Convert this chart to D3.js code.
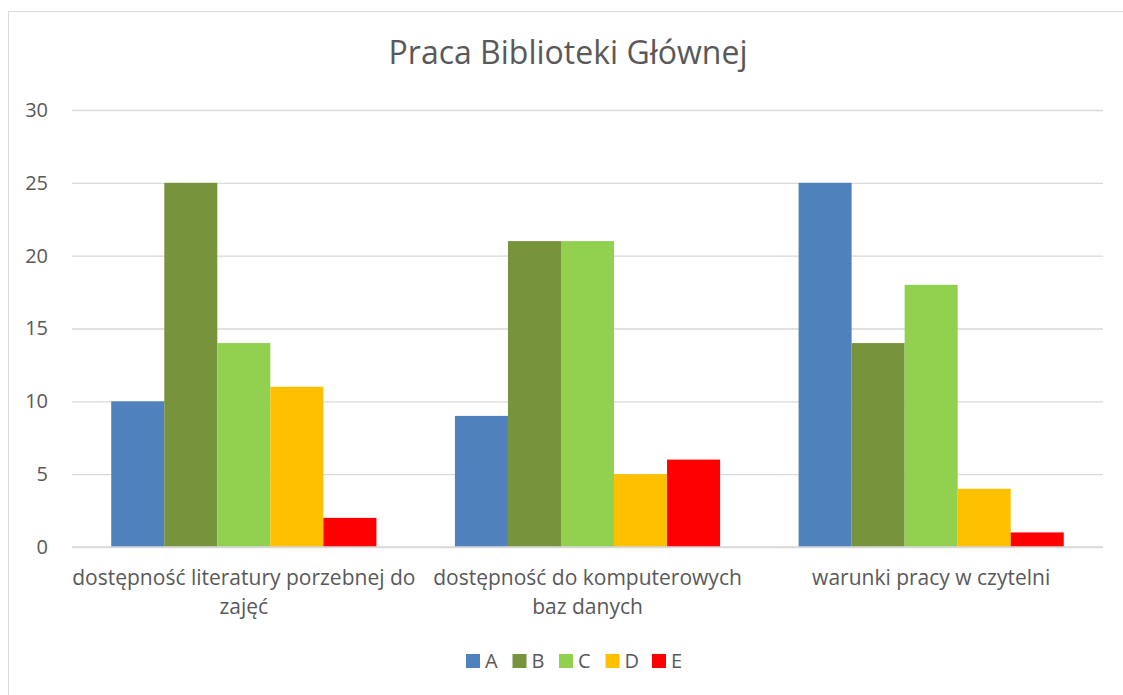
<!DOCTYPE html>
<html>
<head>
<meta charset="utf-8">
<script src="https://cdn.jsdelivr.net/npm/d3@7"></script>
<style>
  html, body { margin: 0; padding: 0; background: #fff; }
  svg { display: block; }
  text { font-family: "Open Sans", "DejaVu Sans", sans-serif; fill: #595959; }
</style>
</head>
<body>
<svg id="chart" width="1123" height="695"></svg>
<script>
const title = "Praca Biblioteki Głównej";
const categories = ["dostępność literatury porzebnej do zajęć", "dostępność do komputerowych baz danych", "warunki pracy w czytelni"];
const categoryLines = [["dostępność literatury porzebnej do", "zajęć"], ["dostępność do komputerowych", "baz danych"], ["warunki pracy w czytelni"]];
const seriesNames = ["A", "B", "C", "D", "E"];
const seriesColors = ["#4F81BD", "#77933C", "#92D050", "#FFC000", "#FF0000"];
const valuesA = [10, 9, 25];
const valuesB = [25, 21, 14];
const valuesC = [14, 21, 18];
const valuesD = [11, 5, 4];
const valuesE = [2, 6, 1];
const seriesValues = [valuesA, valuesB, valuesC, valuesD, valuesE];
const yTicks = [0, 5, 10, 15, 20, 25, 30];

const svg = d3.select("#chart");
const W = 1123, H = 695;

// outer chart border
svg.append("rect").attr("x", 8.5).attr("y", 11.5).attr("width", W).attr("height", H)
  .attr("fill", "#fff").attr("stroke", "#D9D9D9").attr("stroke-width", 1);

const plot = { left: 72, right: 1103, top: 110, bottom: 547 };

const x0 = d3.scaleBand().domain(categories).range([plot.left, plot.right]).paddingInner(0).paddingOuter(0);
const gapRatio = 1.48;
const barW = x0.bandwidth() / (seriesNames.length + gapRatio);
const pad = barW * gapRatio / 2;
const x1 = d3.scaleBand().domain(seriesNames).range([pad, x0.bandwidth() - pad]).padding(0);
const y = d3.scaleLinear().domain([0, 30]).range([plot.bottom, plot.top]);

// title
svg.append("text").attr("x", 568).attr("y", 64).attr("text-anchor", "middle")
  .style("font-size", "32px").text(title);

// gridlines
const yAxis = d3.axisLeft(y).tickValues(yTicks).tickSize(-(plot.right - plot.left)).tickPadding(24);
const gy = svg.append("g").attr("transform", `translate(${plot.left},0)`).call(yAxis);
gy.select(".domain").remove();
gy.selectAll(".tick line").attr("stroke", "#D9D9D9").attr("stroke-width", 1.3);
gy.selectAll(".tick text").style("font-size", "20px").attr("fill", "#595959")
  .style("font-family", "'Open Sans', sans-serif");

// bars
const groups = svg.append("g").selectAll("g").data(categories).join("g")
  .attr("transform", d => `translate(${x0(d)},0)`);
groups.selectAll("rect")
  .data((d, ci) => seriesNames.map((s, si) => ({ s, si, v: seriesValues[si][ci] })))
  .join("rect")
  .attr("x", d => x1(d.s))
  .attr("width", x1.bandwidth())
  .attr("y", d => y(d.v))
  .attr("height", d => y(0) - y(d.v))
  .attr("fill", d => seriesColors[d.si]);

// baseline
svg.append("line").attr("x1", plot.left).attr("x2", plot.right)
  .attr("y1", y(0)).attr("y2", y(0)).attr("stroke", "#D9D9D9").attr("stroke-width", 1.5);

// category labels
const xAxis = d3.axisBottom(x0).tickSize(0).tickFormat(() => "");
const gx = svg.append("g").attr("transform", `translate(0,${plot.bottom})`).call(xAxis);
gx.select(".domain").remove();
gx.selectAll(".tick").each(function(d, i) {
  const t = d3.select(this).append("text").attr("text-anchor", "middle").style("font-size", "21px");
  categoryLines[i].forEach((ln, li) => {
    t.append("tspan").attr("x", 0).attr("y", 38 + li * 29).text(ln);
  });
});

// legend
const legend = svg.append("g");
const legX = d3.scalePoint().domain(seriesNames).range([466, 652]);
const li = legend.selectAll("g").data(seriesNames).join("g")
  .attr("transform", d => `translate(${legX(d)},654)`);
li.append("rect").attr("width", 14).attr("height", 14).attr("fill", (d, i) => seriesColors[i]);
li.append("text").attr("x", 19).attr("y", 14).style("font-size", "20px").text(d => d);
</script>
</body>
</html>
